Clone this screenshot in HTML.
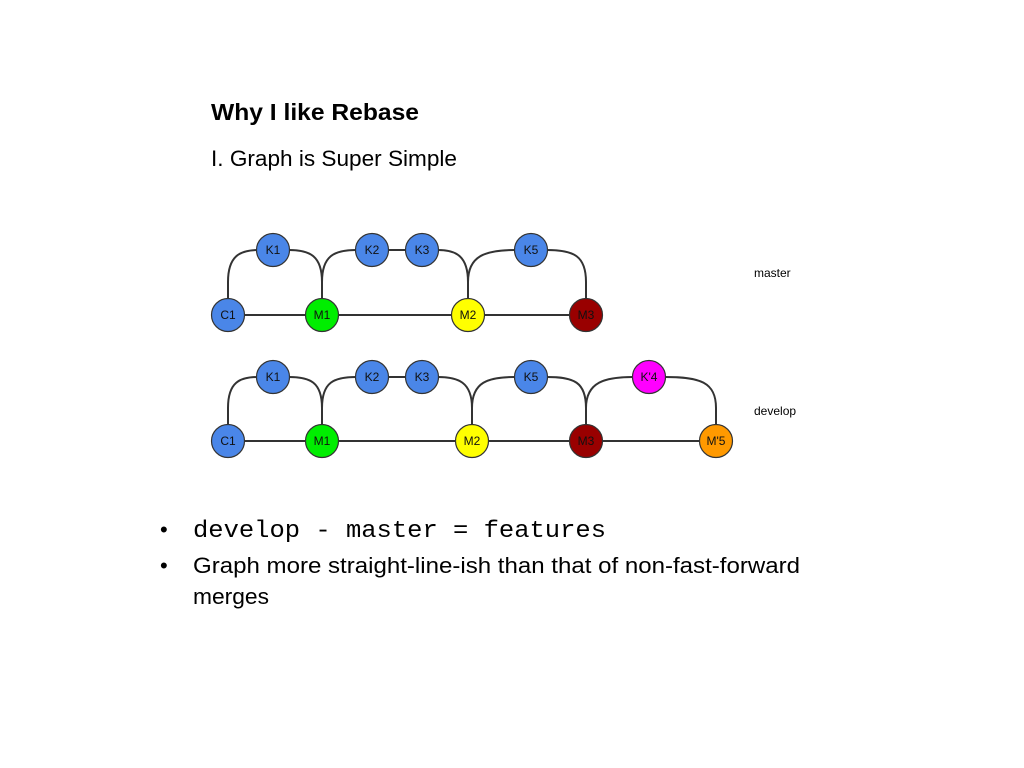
<!DOCTYPE html>
<html><head><meta charset="utf-8"><style>html,body{margin:0;padding:0;background:#fff;}svg{display:block}</style></head>
<body>
<svg width="1024" height="768" viewBox="0 0 1024 768" xmlns="http://www.w3.org/2000/svg">
<rect width="1024" height="768" fill="#fff"/>
<g font-family="Liberation Sans, sans-serif" fill="#000">
<text x="211" y="120" font-size="23" font-weight="bold" textLength="208" lengthAdjust="spacingAndGlyphs">Why I like Rebase</text>
<text x="211" y="166" font-size="22" textLength="246" lengthAdjust="spacingAndGlyphs">I. Graph is Super Simple</text>
<text x="160" y="537" font-size="22">•</text>
<text x="160" y="573" font-size="22">•</text>
<text x="193" y="537" font-size="24" font-family="Liberation Mono, monospace" textLength="413" lengthAdjust="spacingAndGlyphs">develop - master = features</text>
<text x="193" y="573" font-size="22" textLength="607" lengthAdjust="spacingAndGlyphs">Graph more straight-line-ish than that of non-fast-forward</text>
<text x="193" y="604" font-size="22" textLength="76" lengthAdjust="spacingAndGlyphs">merges</text>
<text x="754" y="277" font-size="12">master</text>
<text x="754" y="415" font-size="12">develop</text>
</g>
<g fill="none" stroke="#333" stroke-width="2">
<!-- master row -->
<line x1="228" y1="315" x2="586" y2="315"/>
<path d="M228,299 V282 C228,256 240,250 258,250"/>
<path d="M289,250 C310,250 322,256 322,282 V299"/>
<path d="M322,299 V282 C322,256 334,250 356,250"/>
<line x1="388" y1="250" x2="406" y2="250"/>
<path d="M438,250 C456,250 468,256 468,282 V299"/>
<path d="M468,299 V282 C468,256 485,250 515,250"/>
<path d="M547,250 C574,250 586,256 586,282 V299"/>
<!-- develop row -->
<line x1="228" y1="441" x2="716" y2="441"/>
<path d="M228,425 V408 C228,382 240,377 258,377"/>
<path d="M289,377 C310,377 322,382 322,408 V425"/>
<path d="M322,425 V408 C322,382 334,377 356,377"/>
<line x1="388" y1="377" x2="406" y2="377"/>
<path d="M438,377 C458,377 472,382 472,408 V425"/>
<path d="M472,425 V408 C472,382 488,377 515,377"/>
<path d="M547,377 C574,377 586,382 586,408 V425"/>
<path d="M586,425 V408 C586,382 605,377 633,377"/>
<path d="M665,377 C700,377 716,382 716,408 V425"/>
</g>
<g stroke="#333" stroke-width="1.2" font-family="Liberation Sans, sans-serif" font-size="12" text-anchor="middle">
<g>
<circle cx="228" cy="315" r="16.5" fill="#4a86e8"/>
<circle cx="322" cy="315" r="16.5" fill="#00ee00"/>
<circle cx="468" cy="315" r="16.5" fill="#ffff00"/>
<circle cx="586" cy="315" r="16.5" fill="#990000"/>
<circle cx="273" cy="250" r="16.5" fill="#4a86e8"/>
<circle cx="372" cy="250" r="16.5" fill="#4a86e8"/>
<circle cx="422" cy="250" r="16.5" fill="#4a86e8"/>
<circle cx="531" cy="250" r="16.5" fill="#4a86e8"/>
<circle cx="228" cy="441" r="16.5" fill="#4a86e8"/>
<circle cx="322" cy="441" r="16.5" fill="#00ee00"/>
<circle cx="472" cy="441" r="16.5" fill="#ffff00"/>
<circle cx="586" cy="441" r="16.5" fill="#990000"/>
<circle cx="716" cy="441" r="16.5" fill="#ff9900"/>
<circle cx="273" cy="377" r="16.5" fill="#4a86e8"/>
<circle cx="372" cy="377" r="16.5" fill="#4a86e8"/>
<circle cx="422" cy="377" r="16.5" fill="#4a86e8"/>
<circle cx="531" cy="377" r="16.5" fill="#4a86e8"/>
<circle cx="649" cy="377" r="16.5" fill="#ff00ff"/>
</g>
<g stroke="none" fill="#111">
<text x="228" y="319">C1</text><text x="322" y="319">M1</text><text x="468" y="319">M2</text><text x="586" y="319">M3</text>
<text x="273" y="254">K1</text><text x="372" y="254">K2</text><text x="422" y="254">K3</text><text x="531" y="254">K5</text>
<text x="228" y="445">C1</text><text x="322" y="445">M1</text><text x="472" y="445">M2</text><text x="586" y="445">M3</text><text x="716" y="445">M'5</text>
<text x="273" y="381">K1</text><text x="372" y="381">K2</text><text x="422" y="381">K3</text><text x="531" y="381">K5</text><text x="649" y="381">K'4</text>
</g>
</g>
</svg>
</body></html>
